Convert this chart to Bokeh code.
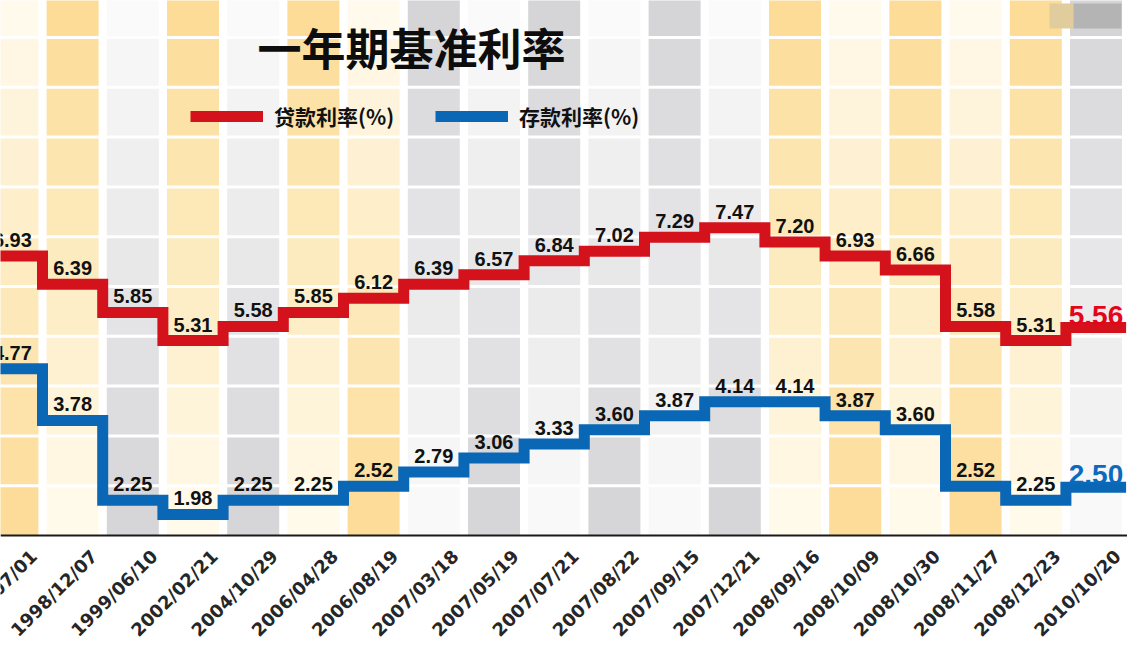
import math
from bokeh.plotting import figure
from bokeh.models import Range1d, Legend, LegendItem, Label, BoxAnnotation
from bokeh.core.properties import value
from bokeh.embed import file_html
from bokeh.resources import INLINE

# ---------------- data ----------------
dates = ["1998/07/01", "1998/12/07", "1999/06/10", "2002/02/21", "2004/10/29",
         "2006/04/28", "2006/08/19", "2007/03/18", "2007/05/19", "2007/07/21",
         "2007/08/22", "2007/09/15", "2007/12/21", "2008/09/16", "2008/10/09",
         "2008/10/30", "2008/11/27", "2008/12/23", "2010/10/20"]
loan = [6.93, 6.39, 5.85, 5.31, 5.58, 5.85, 6.12, 6.39, 6.57, 6.84,
        7.02, 7.29, 7.47, 7.20, 6.93, 6.66, 5.58, 5.31, 5.56]
deposit = [4.77, 3.78, 2.25, 1.98, 2.25, 2.25, 2.52, 2.79, 3.06, 3.33,
           3.60, 3.87, 4.14, 4.14, 3.87, 3.60, 2.52, 2.25, 2.50]
title_text = "一年期基准利率"
loan_name = "贷款利率(%)"
deposit_name = "存款利率(%)"

# background column styles (palette, where the strong colour sits)
col_styles = ["o_b", "o_t", "g_b", "o_t", "g_b", "o_t", "o_b", "g_t", "g_b", "g_t",
              "g_b", "g_t", "g_b", "o_t", "o_b", "o_t", "o_b", "o_t", "g_t"]

RED = "#D3121C"
BLUE = "#0A67B5"
CJK = "Noto Sans CJK SC"
LAT = "Liberation Sans"
AXF = "DejaVu Sans"

W, H = 1127, 663
AXIS_PX = 535          # pixel row of the category axis
PX = 60.2              # pixels per category
YPX = 52.2             # pixels per percentage point
CELL = 49.8            # background cell height in pixels
X0, X1 = (0 - 11.9) / PX, (W - 11.9) / PX
Y1 = 6.93 + 255.5 / YPX
Y0 = Y1 - H / YPX
BG0, BG1 = -(H - AXIS_PX) / CELL, AXIS_PX / CELL

p = figure(width=W, height=H, x_range=Range1d(X0, X1), y_range=Range1d(Y0, Y1),
           output_backend="svg", toolbar_location=None,
           min_border_left=0, min_border_right=0, min_border_top=0, min_border_bottom=0,
           background_fill_color="white", border_fill_color="white", outline_line_color=None)
p.extra_y_ranges = {"bg": Range1d(BG0, BG1)}
p.grid.visible = False
p.xaxis.visible = False
p.yaxis.visible = False

# ---------------- background cells ----------------
PAL = {"o": ((252, 219, 148), (255, 251, 238)), "g": ((212, 212, 215), (251, 251, 251))}

def mix(a, b, t):
    return "#%02x%02x%02x" % tuple(int(round(a[k] + (b[k] - a[k]) * t)) for k in range(3))

L, R, B, T, C = [], [], [], [], []
rows = [(0.0, 0.97)] + [(k + 0.03, k + 0.97) for k in range(1, 10)] + [(10.03, BG1 + 0.5)]
gap = 0.068
for i, st in enumerate(col_styles):
    strong, light = PAL[st[0]]
    for (b, t) in rows:
        yc = (b + min(t, BG1)) / 2
        frac_top = (BG1 - yc) / BG1
        tt = frac_top if st[2] == "t" else 1 - frac_top
        L.append(i - 0.5 + gap); R.append(i + 0.5 - gap)
        B.append(b); T.append(t); C.append(mix(strong, light, tt))
p.quad(left=L, right=R, bottom=B, top=T, fill_color=C, line_color=None, y_range_name="bg")

# category axis line
p.hspan(y=[0], y_range_name="bg", line_color="#1a1a1a", line_width=2)

# ---------------- step lines ----------------
def step_xy(vals):
    xs, ys = [], []
    for i, v in enumerate(vals):
        xs += [i - 0.5, i + 0.5]
        ys += [v, v]
    return xs, ys

lx, ly = step_xy(loan)
dx, dy = step_xy(deposit)
r_loan = p.line(lx, ly, line_color=RED, line_width=11, line_join="miter", line_cap="butt")
r_dep = p.line(dx, dy, line_color=BLUE, line_width=11, line_join="miter", line_cap="butt")

# ---------------- value labels ----------------
idx = list(range(len(dates)))
n = len(dates) - 1
for vals in (loan, deposit):
    p.text(x=idx[:n], y=vals[:n], text=["%.2f" % v for v in vals[:n]], text_align="center",
           text_baseline="alphabetic", y_offset=-16, text_font=value(LAT), text_font_style="bold",
           text_font_size="20px", text_color="#111111")
p.text(x=[idx[n]], y=[loan[n]], text=["%.2f" % loan[n]], text_align="center",
       text_baseline="alphabetic", y_offset=-12, text_font=value(LAT), text_font_style="bold",
       text_font_size="28px", text_color="#E5051A")
p.text(x=[idx[n]], y=[deposit[n]], text=["%.2f" % deposit[n]], text_align="center",
       text_baseline="alphabetic", y_offset=-13, text_font=value(LAT), text_font_style="bold",
       text_font_size="28px", text_color="#0A6ABF")

# ---------------- category labels (rotated, clipped at the edges like the original) -------
p.text(x=idx, y=[0] * len(idx), y_range_name="bg", text=dates, angle=math.pi / 4,
       x_offset=14, y_offset=10, text_align="right", text_baseline="top",
       text_font=value(AXF), text_font_style="bold", text_font_size="18px", text_color="#262626")

# ---------------- legend & title ----------------
legend = Legend(items=[LegendItem(label=loan_name, renderers=[r_loan]),
                       LegendItem(label=deposit_name, renderers=[r_dep])],
                orientation="horizontal", location=(190, H - 130.5), glyph_width=73, glyph_height=12,
                label_standoff=11, spacing=41, padding=0, margin=0,
                background_fill_alpha=0, border_line_color=None,
                label_text_font=CJK, label_text_font_size="21px", label_text_font_style="bold",
                label_text_color="#111111")
p.add_layout(legend)

p.add_layout(Label(x=411, y=H - 46, x_units="screen", y_units="screen", text=title_text,
                   text_align="center", text_baseline="middle", text_font=CJK,
                   text_font_size="44px", text_font_style="bold", text_color="#0d0d0d"))

# faint watermark remnant in the top-right corner
p.add_layout(BoxAnnotation(left=1049, right=1073, top=H - 3, bottom=H - 28, left_units="screen",
                           right_units="screen", top_units="screen", bottom_units="screen",
                           fill_color="#E0CC9C", fill_alpha=1, line_color=None))
p.add_layout(BoxAnnotation(left=1073, right=1121, top=H - 3, bottom=H - 28, left_units="screen",
                           right_units="screen", top_units="screen", bottom_units="screen",
                           fill_color="#B4B4B4", fill_alpha=1, line_color=None))

open("out.html", "w").write(file_html(p, INLINE))
